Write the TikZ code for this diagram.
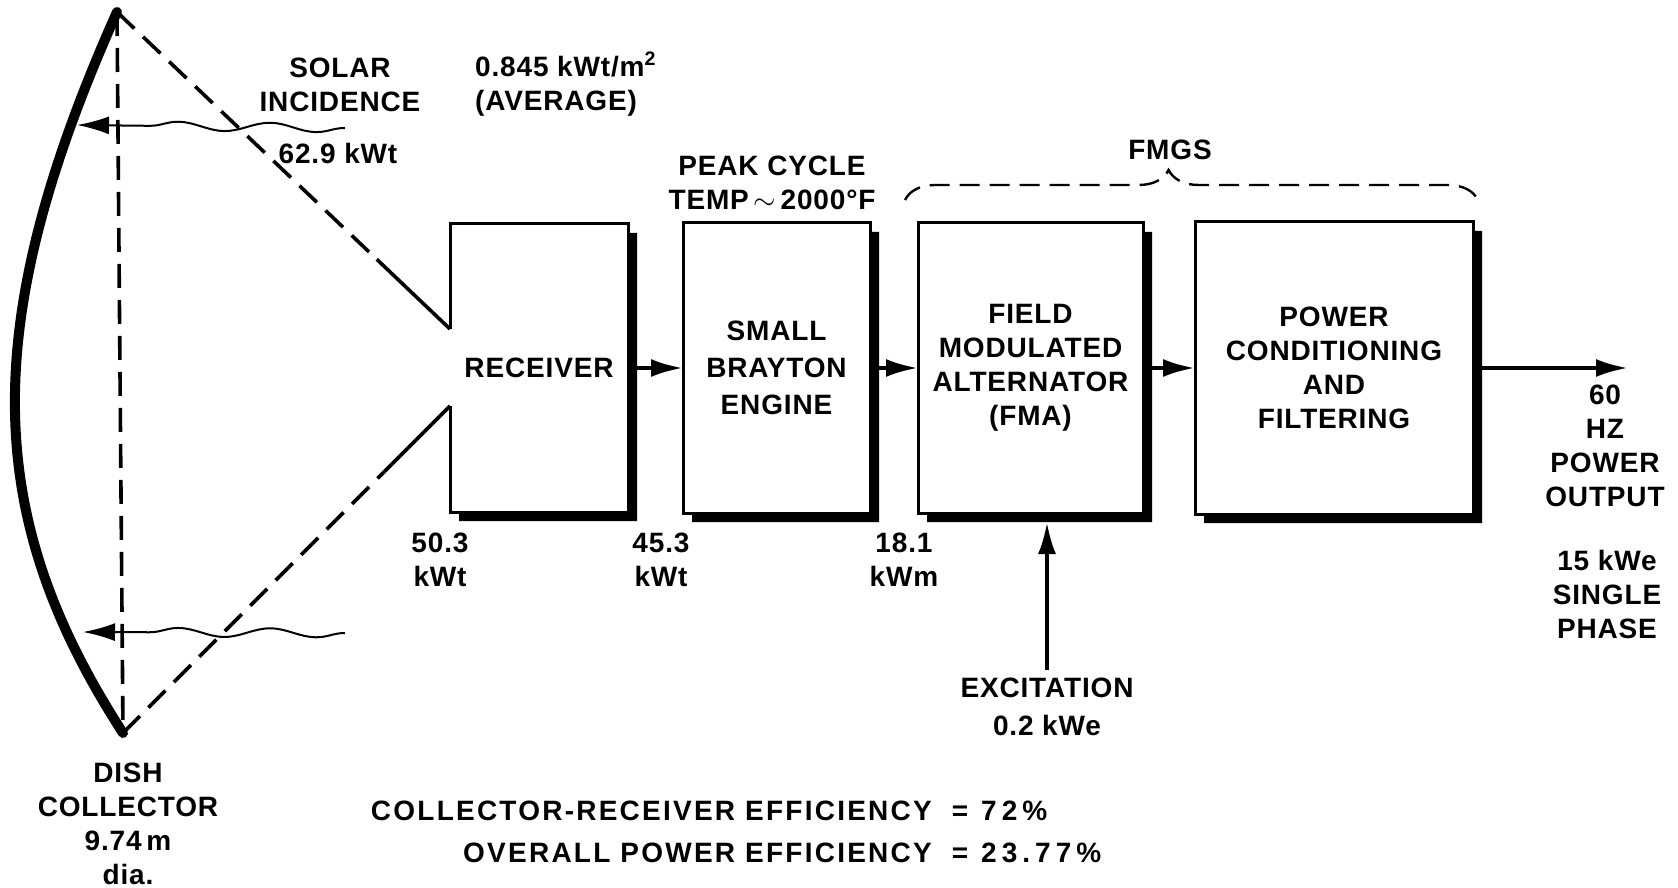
\documentclass[tikz,border=0pt]{standalone}
\usepackage{fontspec}
\setmainfont{Liberation Sans}[LetterSpace=3]
\usetikzlibrary{positioning, calc, arrows.meta, decorations.pathmorphing, decorations.pathreplacing}

\begin{document}
\begin{tikzpicture} [x = 0.5pt, y = -0.5pt, line width = 1.5pt,
        font = \fontsize{14pt}{17pt}\selectfont\bfseries, every node/.append style = {align = center},
        block/.style = {fill = white, outer sep = 0pt},
        flow/.style = {-{Latex[length = 16pt, width = 9pt]}, line width = 2pt},
        ray/.style = {dash pattern = on 12pt off 6pt, line width = 1.8pt},
        wave/.style = {-{Latex[length = 16pt, width = 9pt]}, line width = 1pt, decorate,
            decoration = {snake, amplitude = 2.2pt, segment length = 46pt, post length = 22pt}}]

        \path [use as bounding box, fill = white] (0, 0) rectangle (1678, 888);

        \coordinate (dtop) at (117, 12);
        \coordinate (dbot) at (123, 733);
        \draw [line width = 5pt, line cap = round, line join = round] (dtop) .. controls (-25, 330) and (-15, 520) .. (dbot);
        \draw [ray] (dtop) -- (dbot);

        \node [block, minimum width = 89pt, minimum height = 144pt] (rec) at (539, 368) {RECEIVER};
        \node [block, draw, minimum width = 93.5pt, minimum height = 145pt] (eng) [right = 27.5pt of rec] {SMALL\\[1.5pt]BRAYTON\\[1.5pt]ENGINE};
        \node [block, draw, minimum width = 112.5pt, minimum height = 145pt] (fma) [right = 24pt of eng] {FIELD\\MODULATED\\ALTERNATOR\\(FMA)};
        \node [block, draw, minimum width = 139pt, minimum height = 146pt] (pcf) [right = 26pt of fma] {POWER\\CONDITIONING\\AND\\FILTERING};

        \foreach \blk in {rec, eng, fma, pcf}
            \fill ($(\blk.north east) + (0, 9)$) -- ($(\blk.north east) + (9, 9)$) -- ($(\blk.south east) + (9, 9)$)
                -- ($(\blk.south west) + (9, 9)$) -- ($(\blk.south west) + (9, 0)$) -- (\blk.south east) -- cycle;

        \coordinate (apu) at ([yshift = 19.5pt] rec.west);
        \coordinate (apl) at ([yshift = -19pt] rec.west);
        \draw (apu) -- (rec.north west) -- (rec.north east) -- (rec.south east) -- (rec.south west) -- (apl);

        \coordinate (ru) at ($(dtop)!0.78!(apu)$);
        \coordinate (rl) at ($(dbot)!0.8!(apl)$);
        \draw [ray] (dtop) -- (ru);
        \draw [line width = 1.8pt] (ru) -- (apu);
        \draw [ray] (dbot) -- (rl);
        \draw [line width = 1.8pt] (rl) -- (apl);

        \coordinate (w1s) at (345, 128);
        \coordinate (w1e) at (77, 125);
        \coordinate (w2s) at (345, 633);
        \coordinate (w2e) at (83, 632);
        \draw [wave] (w1s) -- (w1e);
        \draw [wave] (w2s) -- (w2e);

        \path [flow] ([xshift = 4.5pt] rec.east) edge (eng.west);
        \path [flow] ([xshift = 4.5pt] eng.east) edge (fma.west);
        \path [flow] ([xshift = 4.5pt] fma.east) edge (pcf.west);

        \coordinate (outtip) at ([xshift = 77.5pt] pcf.east);
        \path [flow] ([xshift = 4.5pt] pcf.east) edge (outtip);

        \node (exc) at (1047, 707) {EXCITATION\\[2pt]0.2 kWe};
        \coordinate (exctip) at (exc.north |- fma.south);
        \path [flow] (exc.north) edge ([yshift = -4.5pt] exctip);

        \coordinate (fmgsl) at (905, 200);
        \coordinate (fmgsr) at (1478, 200);
        \draw [dash pattern = on 10pt off 5pt, line width = 1.2pt, decorate, decoration = {brace, amplitude = 15pt, aspect = 0.46}] (fmgsl) -- (fmgsr);
        \node (fmgs) at (1170, 150) {FMGS};

        \node (solar) at (340, 85) {SOLAR\\INCIDENCE};
        \node (solarval) at (338, 153) {62.9 kWt};
        \node [anchor = west, align = left] (avg) at (467, 84) {0.845 kWt/m\textsuperscript{2}\\(AVERAGE)};
        \node (peak) at (772, 183) {PEAK CYCLE\\TEMP\,$\sim$\,2000°F};

        \node (q1) at (440, 560) {50.3\\kWt};
        \node (q2) at (661, 560) {45.3\\kWt};
        \node (q3) at (904, 560) {18.1\\kWm};

        \node (out) at (1605, 446) {60\\HZ\\POWER\\OUTPUT};
        \node (outval) at (1607, 594) {15 kWe\\SINGLE\\PHASE};

        \node (dish) at (128, 824) {DISH\\COLLECTOR\\9.74\,m\\dia.};

        \node [anchor = base east] (cre) at (940, 820) {\addfontfeature{LetterSpace=8}COLLECTOR-RECEIVER EFFICIENCY};
        \node [anchor = base] (creq) at (960, 820) {=};
        \node [anchor = base west] (crv) at (973, 820) {\addfontfeature{LetterSpace=18}72\%};
        \node [anchor = base east] (ope) at (940, 862) {\addfontfeature{LetterSpace=8}OVERALL POWER EFFICIENCY};
        \node [anchor = base] (opeq) at (960, 862) {=};
        \node [anchor = base west] (opv) at (973, 862) {\addfontfeature{LetterSpace=18}23.77\%};

    \end{tikzpicture}
\end{document}
